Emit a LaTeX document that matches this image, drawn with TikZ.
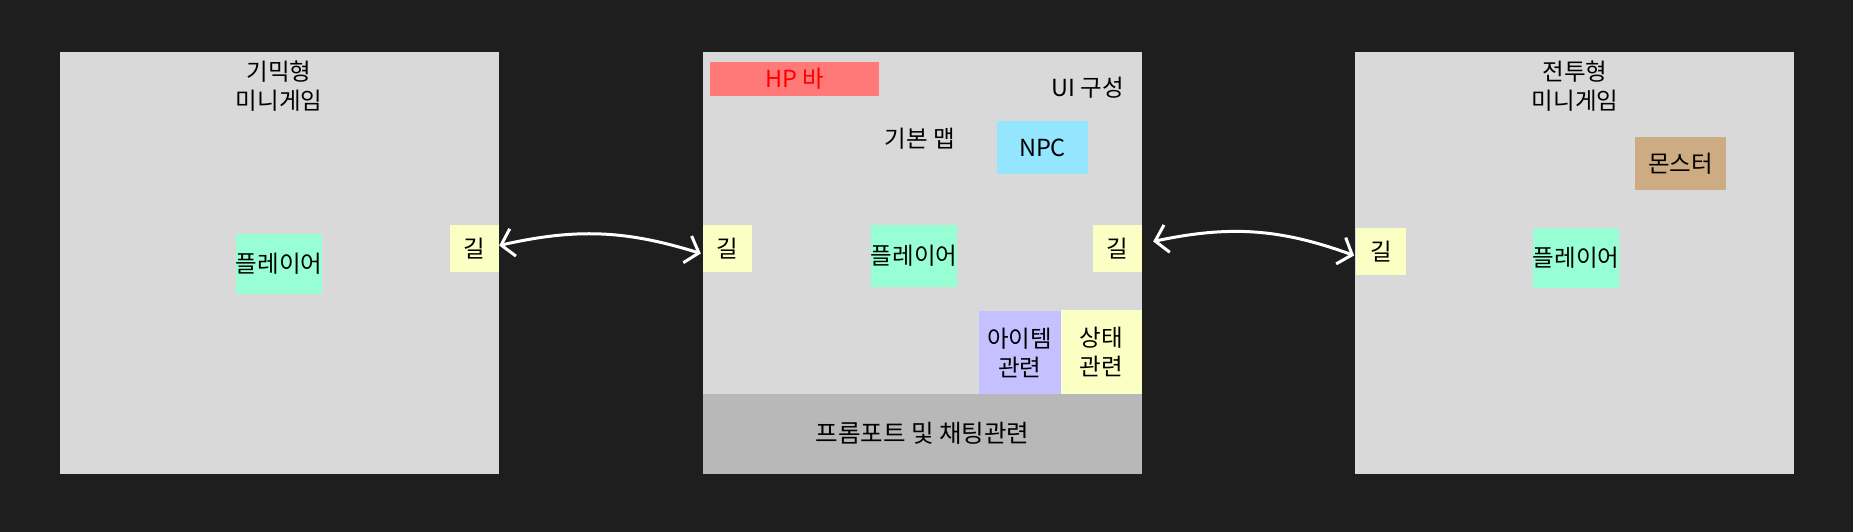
\documentclass[tikz,border=0pt]{standalone}
\usepackage{fontspec}
\setmainfont{Noto Sans CJK KR}
\usepackage{tikz}
\usetikzlibrary{arrows.meta}

\definecolor{bgdark}{HTML}{1E1E1E}
\definecolor{mapgray}{HTML}{D9D9D9}
\definecolor{promptgray}{HTML}{B8B8B8}
\definecolor{playergreen}{HTML}{98FFD5}
\definecolor{roadyellow}{HTML}{FCFFC4}
\definecolor{hpred}{HTML}{FF7979}
\definecolor{npcblue}{HTML}{94E6FF}
\definecolor{itempurple}{HTML}{C5C0FF}
\definecolor{monsterbrown}{HTML}{CDAB83}

\begin{document}
\begin{tikzpicture}[x=1pt, y=-1pt,
    every node/.style={inner sep=0pt, font=\fontsize{23.5}{29}\selectfont},
    area/.style={rectangle, fill=mapgray, minimum width=439pt, minimum height=421pt},
    tile/.style={rectangle, fill=#1, align=center},
    link/.style={draw=white, line width=3pt, line cap=round, line join=round,
        {Straight Barb[length=12pt, width=28pt]}-{Straight Barb[length=12pt, width=28pt]}}]
    \fill[bgdark] (0,0) rectangle (1853,532);
    \useasboundingbox (0,0) rectangle (1853,532);

    % Maps
    \node (gimmick) at (279.5, 263)[area] {};
    \node (basemap) at (922.5, 263)[area] {};
    \node (battle) at (1574.5, 263)[area] {};

    % gimmick minigame
    \node (gtitle) at (279, 86.5)[align=center] {기믹형\\미니게임};
    \node (gplayer) at (279, 264)[tile=playergreen, minimum width=84pt, minimum height=60pt] {플레이어};
    \node (groad) at (474.5, 248.5)[tile=roadyellow, minimum width=49pt, minimum height=47pt] {길};

    % base map
    \node (hpbar) at (794.5, 79)[tile=hpred, minimum width=169pt, minimum height=34pt, text=red] {HP 바};
    \node (uitext) at (1088, 88) {UI 구성};
    \node (maptext) at (920, 139) {기본 맵};
    \node (npc) at (1042.5, 147.5)[tile=npcblue, minimum width=91pt, minimum height=53pt] {NPC};
    \node (mroadl) at (727.5, 248.5)[tile=roadyellow, minimum width=49pt, minimum height=47pt] {길};
    \node (mplayer) at (914, 256)[tile=playergreen, minimum width=85pt, minimum height=62pt] {플레이어};
    \node (mroadr) at (1117.5, 248.5)[tile=roadyellow, minimum width=49pt, minimum height=47pt] {길};
    \node (item) at (1019.75, 352.5)[tile=itempurple, minimum width=81.5pt, minimum height=83pt] {아이템\\관련};
    \node (status) at (1101.25, 352)[tile=roadyellow, minimum width=81.5pt, minimum height=84pt] {상태\\관련};
    \node (prompt) at (922.5, 433.5)[tile=promptgray, minimum width=439pt, minimum height=80pt,
        font=\fontsize{24.5}{29}\selectfont] {프롬포트 및 채팅관련};

    % battle minigame
    \node (btitle) at (1575, 86.5)[align=center] {전투형\\미니게임};
    \node (monster) at (1680.5, 163.5)[tile=monsterbrown, minimum width=91pt, minimum height=53pt] {몬스터};
    \node (broad) at (1381, 251.5)[tile=roadyellow, minimum width=49.5pt, minimum height=47pt] {길};
    \node (bplayer) at (1576, 258)[tile=playergreen, minimum width=85.5pt, minimum height=60pt] {플레이어};

    % edges
    \draw[link] ([yshift=3pt]groad.east) to[bend left=15] ([xshift=-2pt, yshift=-5pt]mroadl.west);
    \draw[link] ([xshift=11pt, yshift=7pt]mroadr.east) to[bend left=16] ([xshift=-2pt, yshift=-4pt]broad.west);

\end{tikzpicture}
\end{document}
